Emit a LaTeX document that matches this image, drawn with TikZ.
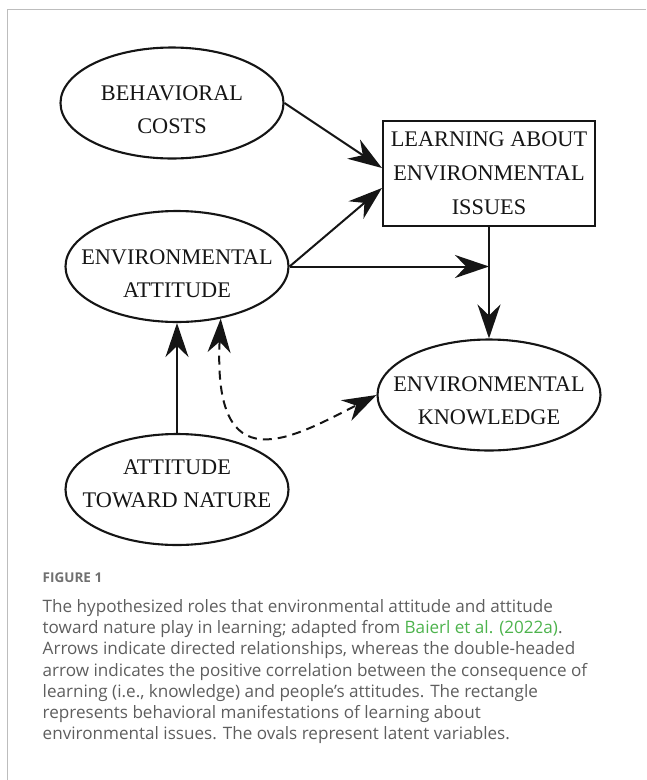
\documentclass[tikz,border=0pt]{standalone}
\usepackage{fontspec}
\setmainfont{Liberation Serif}
\newfontfamily\capfont{Open Sans}
\usetikzlibrary{arrows.meta,shapes.geometric}
\definecolor{ink}{HTML}{151515}
\definecolor{capgray}{HTML}{5E5E5E}
\definecolor{figgray}{HTML}{707070}
\definecolor{linkgreen}{HTML}{4DB34D}
\definecolor{framegray}{HTML}{BDBDBD}
\begin{document}
\begin{tikzpicture}[x=1pt,y=-1pt,
  oval/.style={draw=ink, line width=2.1pt, ellipse, minimum width=223pt, minimum height=111pt, inner sep=0pt},
  lbl/.style={align=center, font=\fontsize{22.3}{33.5}\selectfont, text=ink, inner sep=0pt},
  box/.style={draw=ink, line width=2.1pt, minimum width=212pt, minimum height=105pt, inner sep=0pt, align=center, font=\fontsize{22.3}{34}\selectfont, text=ink},
  conn/.style={draw=ink, line width=2pt, -{Stealth[length=34pt,width=23pt,inset=11pt]}},
  dconn/.style={draw=ink, line width=2pt, dash pattern=on 9pt off 6pt, {Stealth[length=34pt,width=23pt,inset=11pt]}-{Stealth[length=34pt,width=23pt,inset=11pt]}},
  capline/.style={anchor=base west, inner sep=0pt, font=\capfont\fontsize{17.1}{21}\selectfont, text=capgray},
]
\useasboundingbox (0,0) rectangle (646,780);
\draw[framegray, line width=1.6pt] (7.4,780) -- (7.4,9.3) -- (646,9.3);

\node[oval] (beh) at (172,103) {};
\node[lbl] (behl) at (172,109.5) {BEHAVIORAL\\COSTS};
\node[oval] (att) at (177,266.5) {};
\node[lbl] (attl) at (177,273.5) {ENVIRONMENTAL\\ATTITUDE};
\node[oval] (kn) at (489,395) {};
\node[lbl] (knl) at (489,401) {ENVIRONMENTAL\\KNOWLEDGE};
\node[oval] (nat) at (177,489.5) {};
\node[lbl] (natl) at (177,484) {ATTITUDE\\TOWARD NATURE};
\node[box] (lr) at (489,173.5) {LEARNING ABOUT\\ENVIRONMENTAL\\ISSUES};

\coordinate (lrin1) at ([yshift=5.5pt]lr.west);
\coordinate (lrin2) at ([yshift=-14.5pt]lr.west);
\coordinate (j) at (lr.south |- att.east);
\draw[conn] (beh.east) -- (lrin1);
\draw[conn] (att.east) -- (lrin2);
\draw[conn] (att.east) -- (j);
\draw[conn] (lr.south) -- (kn.north);
\draw[conn] (nat.north) -- (att.south);
\draw[dconn] (att.-50) .. controls +(-8,165) and +(-86,44) .. (kn.west);

\node[capline, font=\capfont\bfseries\fontsize{13.5}{16}\selectfont, text=figgray] (fig) at (42.5,582.3) {FIGURE 1};
\node[capline] (c1) at (42.5,612.7) {The hypothesized roles that environmental attitude and attitude};
\node[capline] (c2) at (42.5,633.8) {toward nature play in learning; adapted from \textcolor{linkgreen}{Baierl et al. (2022a)}.};
\node[capline] (c3) at (42.5,654.9) {Arrows indicate directed relationships, whereas the double-headed};
\node[capline] (c4) at (42.5,676.0) {arrow indicates the positive correlation between the consequence of};
\node[capline] (c5) at (42.5,697.1) {learning (i.e., knowledge) and people’s attitudes. The rectangle};
\node[capline] (c6) at (42.5,718.2) {represents behavioral manifestations of learning about};
\node[capline] (c7) at (42.5,739.3) {environmental issues. The ovals represent latent variables.};
\end{tikzpicture}
\end{document}
